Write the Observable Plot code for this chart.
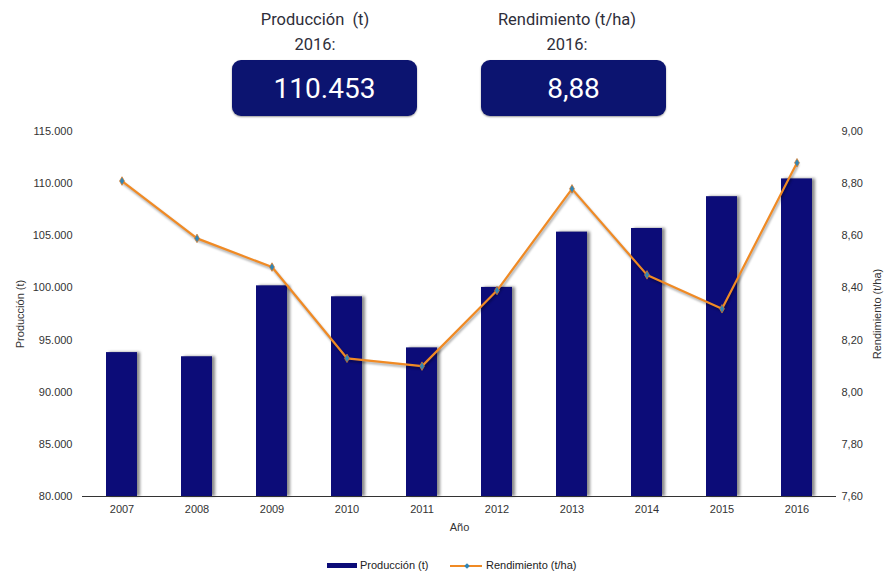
<!DOCTYPE html>
<html>
<head>
<meta charset="utf-8">
<script src="https://cdn.jsdelivr.net/npm/d3@7"></script>
<script src="https://cdn.jsdelivr.net/npm/@observablehq/plot@0.6"></script>
<style>
  body { margin: 0; background: #fff; }
  #wrap { position: relative; width: 886px; height: 571px; overflow: hidden; font-family: "Liberation Sans", Arial, sans-serif; }
  .hdr { position: absolute; width: 240px; text-align: center; font-family: Roboto, "Open Sans", sans-serif; font-size: 16.5px; color: #2e2e3a; line-height: 25px; }
  .box { position: absolute; height: 56px; width: 185px; background: #0c1470; border-radius: 9px; color: #fff; text-align: center; font-family: Roboto, "Open Sans", sans-serif; font-size: 28px; line-height: 58px; box-shadow: 0 1px 2px rgba(0,0,0,0.4); }
  #chart { position: absolute; left: 0; top: 120px; }
  #legend { position: absolute; top: 559px; left: 0; width: 886px; font-size: 11px; color: #222; }
  .lg { position: absolute; top: 0; white-space: nowrap; }
</style>
</head>
<body>
<div id="wrap">
  <div class="hdr" style="left:195px; top:7px;">Producción&nbsp; (t)<br>2016:</div>
  <div class="hdr" style="left:447px; top:7px;">Rendimiento (t/ha)<br>2016:</div>
  <div class="box" id="boxP" style="left:232px; top:60px;"></div>
  <div class="box" id="boxR" style="left:481px; top:60px;"></div>
  <div id="chart"></div>
  <div id="legend">
    <div class="lg" style="left:327px; top:4px; width:30px; height:5px; background:#0c0c78;"></div>
    <div class="lg" style="left:360px; top:0px;">Producción (t)</div>
    <div class="lg" style="left:450px; top:6px; width:32px; height:2px; background:#f08a24;"></div>
    <div class="lg" style="left:465px; top:4.5px; width:4px; height:4px; background:#2f86b8; transform:rotate(45deg);"></div>
    <div class="lg" style="left:486px; top:0px;">Rendimiento (t/ha)</div>
  </div>
</div>
<script>
const years = ["2007","2008","2009","2010","2011","2012","2013","2014","2015","2016"];
const produccion = [93800, 93400, 100200, 99150, 94250, 100050, 105350, 105700, 108750, 110453];
const rendimiento = [8.81, 8.59, 8.48, 8.13, 8.10, 8.39, 8.78, 8.45, 8.32, 8.88];
const leftTicks = [80000, 85000, 90000, 95000, 100000, 105000, 110000, 115000];
const rightTicks = [7.6, 7.8, 8.0, 8.2, 8.4, 8.6, 8.8, 9.0];

const loc = d3.formatLocale({decimal: ",", thousands: ".", grouping: [3], currency: ["", ""]});
const fmtP = loc.format(",.0f");
const fmtR = loc.format(".2f");

document.getElementById("boxP").textContent = fmtP(produccion[9]);
document.getElementById("boxR").textContent = fmtR(rendimiento[9]);

// map rendimiento onto the produccion scale (dual axis)
const toLeft = d3.scaleLinear().domain([7.6, 9.0]).range([80000, 115000]);

const data = years.map((y, i) => ({year: y, p: produccion[i], r: rendimiento[i], rl: toLeft(rendimiento[i])}));

const chart = Plot.plot({
  width: 886,
  height: 430,
  marginLeft: 82,
  marginRight: 50,
  marginTop: 11,
  marginBottom: 54,
  style: {fontFamily: "Liberation Sans, Arial, sans-serif", fontSize: "11px", color: "#333", background: "transparent"},
  x: {domain: years, paddingInner: 0.59, paddingOuter: 0.295},
  y: {domain: [80000, 115000]},
  marks: [
    Plot.barY(data, {x: "year", y1: 80000, y2: "p", fill: "#0c0c78", className: "bars"}),
    Plot.ruleY([80000], {stroke: "#333", strokeWidth: 1}),
    Plot.line(data, {x: "year", y: "rl", stroke: "#f08a24", strokeWidth: 2.2, className: "ln"}),
    Plot.dot(data, {x: "year", y: "rl", symbol: "diamond", r: 2.6, fill: "#2f86b8", stroke: "#e07a20", strokeWidth: 0.7}),
    Plot.axisX({tickSize: 0, tickPadding: 9, label: "Año", labelAnchor: "center", labelOffset: 34, fontSize: 11}),
    Plot.axisY({ticks: leftTicks, tickSize: 0, tickPadding: 10, tickFormat: fmtP, label: "Producción (t)", labelAnchor: "center", labelOffset: 66, labelArrow: "none"}),
    Plot.axisY({anchor: "right", ticks: rightTicks.map(toLeft), tickSize: 0, tickPadding: 5, tickFormat: d => fmtR(toLeft.invert(d)), label: "Rendimiento (t/ha)", labelAnchor: "center", labelOffset: 44, labelArrow: "none"})
  ]
});
document.getElementById("chart").appendChild(chart);
chart.querySelectorAll(".bars").forEach(g => g.style.filter = "drop-shadow(3px 0px 1.5px rgba(60,60,60,0.6))");
chart.querySelectorAll(".ln").forEach(g => g.style.filter = "drop-shadow(1px 2px 1px rgba(0,0,0,0.35))");
</script>
</body>
</html>
